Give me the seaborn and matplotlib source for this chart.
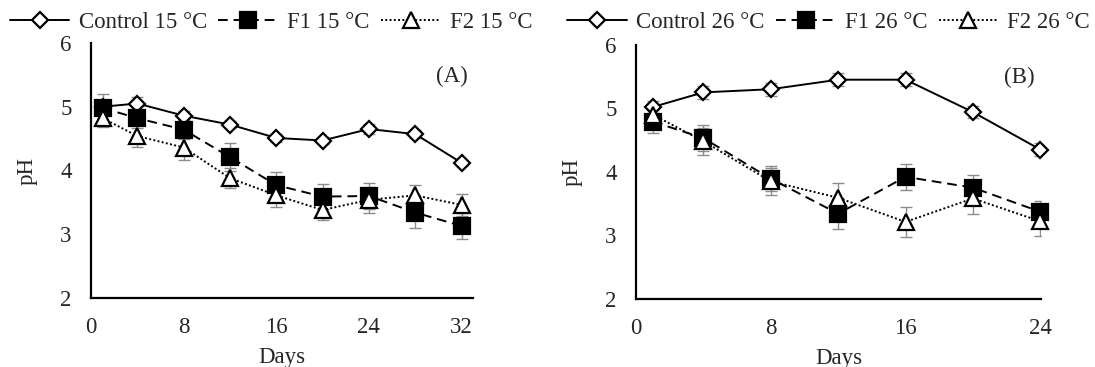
import matplotlib
matplotlib.use('Agg')
import matplotlib.pyplot as plt
import pandas as pd
import seaborn as sns
from matplotlib.lines import Line2D

# data ------------------------------
days_15 = [1, 4, 8, 12, 16, 20, 24, 28, 32]
control_15 = [5.00, 5.05, 4.86, 4.72, 4.51, 4.47, 4.65, 4.57, 4.12]
f1_15 = [4.98, 4.82, 4.64, 4.21, 3.77, 3.59, 3.60, 3.34, 3.13]
f2_15 = [4.82, 4.54, 4.36, 3.88, 3.61, 3.38, 3.54, 3.61, 3.46]
control_15_err = [0.08, 0.10, 0.08, 0.06, 0.06, 0.06, 0.08, 0.06, 0.05]
f1_15_err = [0.22, 0.15, 0.15, 0.22, 0.21, 0.20, 0.21, 0.25, 0.20]
f2_15_err = [0.14, 0.17, 0.19, 0.16, 0.18, 0.15, 0.20, 0.16, 0.17]

days_26 = [1, 4, 8, 12, 16, 20, 24]
control_26 = [5.02, 5.25, 5.30, 5.45, 5.45, 4.94, 4.35]
f1_26 = [4.79, 4.53, 3.89, 3.34, 3.92, 3.75, 3.37]
f2_26 = [4.90, 4.48, 3.85, 3.59, 3.21, 3.58, 3.22]
control_26_err = [0.10, 0.10, 0.10, 0.10, 0.10, 0.10, 0.10]
f1_26_err = [0.18, 0.21, 0.20, 0.24, 0.20, 0.20, 0.17]
f2_26_err = [0.15, 0.21, 0.21, 0.24, 0.24, 0.25, 0.23]

panels = [
    ('15 °C', '(A)', days_15, [control_15, f1_15, f2_15],
     [control_15_err, f1_15_err, f2_15_err], (0, 33), [0, 8, 16, 24, 32]),
    ('26 °C', '(B)', days_26, [control_26, f1_26, f2_26],
     [control_26_err, f1_26_err, f2_26_err], (0, 24.05), [0, 8, 16, 24]),
]
treatments = ['Control', 'F1', 'F2']

# styles
styles = {
    'Control': dict(ls='-', marker='D', mfc='white', ms=8.5, dashes=None),
    'F1': dict(ls='--', marker='s', mfc='black', ms=11, dashes=(5, 3)),
    'F2': dict(ls=':', marker='^', mfc='white', ms=11, dashes=(1, 1.2)),
}

sns.set_theme(style='white')
plt.rcParams['font.family'] = ['Liberation Serif', 'DejaVu Serif']
fs = 16.5

fig = plt.figure(figsize=(10.95, 3.67), dpi=100)
axes = [fig.add_axes([0.0831, 0.188, 0.349, 0.695]),
        fig.add_axes([0.5808, 0.186, 0.370, 0.692])]
legend_x = [0.009, 0.518]

for ax, (temp, tag, days, series, errs, xlim, xticks), lx in zip(axes, panels, legend_x):
    handles = []
    for name, vals, err in zip(treatments, series, errs):
        st = styles[name]
        df = pd.DataFrame({'Days': days, 'pH': vals})
        # error bars behind the markers
        ax.errorbar(days, vals, yerr=err, fmt='none', ecolor='#8c8c8c',
                    elinewidth=1.0, capsize=4, capthick=1.0, zorder=1)
        sns.lineplot(data=df, x='Days', y='pH', ax=ax, color='black',
                     linestyle=st['ls'], linewidth=1.4, marker=st['marker'],
                     markersize=st['ms'], markerfacecolor=st['mfc'],
                     markeredgecolor='black', markeredgewidth=1.6, zorder=3,
                     clip_on=False)
        line = ax.get_lines()[-1]
        if st['dashes'] is not None:
            line.set_dashes(st['dashes'])
        h = Line2D([], [], color='black', linestyle=st['ls'], linewidth=1.4,
                   marker=st['marker'], markersize=st['ms'],
                   markerfacecolor=st['mfc'], markeredgecolor='black',
                   markeredgewidth=1.6)
        if st['dashes'] is not None:
            h.set_dashes(st['dashes'])
        handles.append((h, f'{name} {temp}'))

    ax.set_xlim(*xlim)
    ax.set_ylim(2, 6)
    ax.set_xticks(xticks)
    ax.set_yticks([2, 3, 4, 5, 6])
    ax.tick_params(axis='both', length=0, labelsize=fs)
    ax.tick_params(axis='x', pad=14)
    ax.tick_params(axis='y', pad=14)
    ax.set_xlabel('Days', fontsize=fs, labelpad=6)
    ax.set_ylabel('pH', fontsize=fs, labelpad=16)
    for side in ['top', 'right']:
        ax.spines[side].set_visible(False)
    for side in ['left', 'bottom']:
        ax.spines[side].set_color('black')
        ax.spines[side].set_linewidth(1.6)
    ax.text(0.945, 0.87, tag, transform=ax.transAxes, ha='center', va='center',
            fontsize=fs)

    fig.legend([h for h, _ in handles], [l for _, l in handles],
               loc='center left', bbox_to_anchor=(lx, 0.94), ncol=3,
               frameon=False, fontsize=fs, handlelength=2.6,
               handletextpad=0.4, columnspacing=0.5, borderaxespad=0,
               borderpad=0)

fig.savefig('out.png', dpi=100)
